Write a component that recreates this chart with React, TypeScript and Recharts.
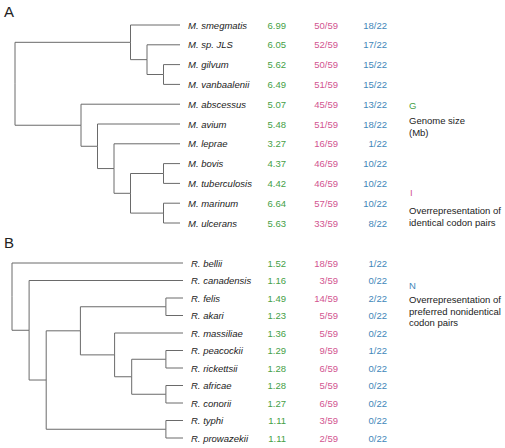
import React from 'react';
import { ComposedChart, Line, Scatter, XAxis, YAxis } from 'recharts';

// Mycobacterium panel
const speciesA = ['M. smegmatis', 'M. sp. JLS', 'M. gilvum', 'M. vanbaalenii', 'M. abscessus', 'M. avium', 'M. leprae', 'M. bovis', 'M. tuberculosis', 'M. marinum', 'M. ulcerans'];
const genomeA = [6.99, 6.05, 5.62, 6.49, 5.07, 5.48, 3.27, 4.37, 4.42, 6.64, 5.63];
const identicalA = [50, 52, 50, 51, 45, 51, 16, 46, 46, 57, 33];
const nonidenticalA = [18, 17, 15, 15, 13, 18, 1, 10, 10, 10, 8];

// Rickettsia panel
const speciesB = ['R. bellii', 'R. canadensis', 'R. felis', 'R. akari', 'R. massiliae', 'R. peacockii', 'R. rickettsii', 'R. africae', 'R. conorii', 'R. typhi', 'R. prowazekii'];
const genomeB = [1.52, 1.16, 1.49, 1.23, 1.36, 1.29, 1.28, 1.28, 1.27, 1.11, 1.11];
const identicalB = [18, 3, 14, 5, 5, 9, 6, 5, 6, 3, 2];
const nonidenticalB = [1, 0, 2, 0, 0, 1, 0, 0, 0, 0, 0];

const IDENT_TOTAL = 59;
const NONIDENT_TOTAL = 22;
const LEAF_DEPTH = 10;

// topology: leaves are row indices, d = node depth (cladogram units)
type TreeNode = number | { d: number; c: TreeNode[] };

const treeA: TreeNode = {
  d: 0,
  c: [
    { d: 7, c: [0, { d: 8, c: [1, { d: 9, c: [2, 3] }] }] },
    { d: 4, c: [4, { d: 5, c: [5, { d: 6, c: [6, { d: 7, c: [{ d: 9, c: [7, 8] }, { d: 9, c: [9, 10] }] }] }] }] },
  ],
};

const treeB: TreeNode = {
  d: 0,
  c: [
    0,
    {
      d: 1,
      c: [
        1,
        {
          d: 2,
          c: [
            { d: 4, c: [{ d: 9, c: [2, 3] }, { d: 6, c: [4, { d: 7, c: [{ d: 9, c: [5, 6] }, { d: 9, c: [7, 8] }] }] }] },
            { d: 9, c: [9, 10] },
          ],
        },
      ],
    },
  ],
};

const GREEN = '#45a046';
const PINK = '#d2548f';
const BLUE = '#3f87b9';
const BRANCH = '#6a6a6a';
const FONT = '"Liberation Sans", Arial, sans-serif';
const FS = 9.5;

type Pt = { x: number; y: number };

function layout(node: TreeNode, segs: Pt[][]): Pt {
  if (typeof node === 'number') return { x: LEAF_DEPTH, y: node };
  const kids = node.c.map((k) => layout(k, segs));
  const y = (kids[0].y + kids[kids.length - 1].y) / 2;
  kids.forEach((k) => {
    segs.push([
      { x: node.d, y },
      { x: node.d, y: k.y },
      { x: k.x, y: k.y },
    ]);
  });
  return { x: node.d, y };
}

function TreePanel({
  tree,
  species,
  genome,
  identical,
  nonidentical,
  height,
  margin,
}: {
  tree: TreeNode;
  species: string[];
  genome: number[];
  identical: number[];
  nonidentical: number[];
  height: number;
  margin: { top: number; right: number; bottom: number; left: number };
}) {
  const segs: Pt[][] = [];
  layout(tree, segs);
  const leaves = species.map((name, i) => ({
    x: LEAF_DEPTH,
    y: i,
    name,
    g: genome[i],
    id: identical[i],
    nid: nonidentical[i],
  }));

  const renderLeaf = (props: any) => {
    const { cx, cy, payload } = props;
    return (
      <g style={{ fontFamily: FONT, fontSize: FS }}>
        <text x={cx + 8} y={cy} dominantBaseline="central" fill="#222" fontStyle="italic">
          {payload.name}
        </text>
        <text x={286} y={cy} dominantBaseline="central" textAnchor="end" fill={GREEN}>
          {payload.g.toFixed(2)}
        </text>
        <text x={338} y={cy} dominantBaseline="central" textAnchor="end" fill={PINK}>
          {`${payload.id}/${IDENT_TOTAL}`}
        </text>
        <text x={387} y={cy} dominantBaseline="central" textAnchor="end" fill={BLUE}>
          {`${payload.nid}/${NONIDENT_TOTAL}`}
        </text>
      </g>
    );
  };

  return (
    <ComposedChart width={505} height={height} margin={margin}>
      <XAxis type="number" dataKey="x" domain={[0, LEAF_DEPTH]} hide />
      <YAxis type="number" dataKey="y" domain={[0, species.length - 1]} reversed hide />
      {segs.map((s, i) => (
        <Line
          key={`seg-${i}`}
          data={s}
          dataKey="y"
          type="linear"
          stroke={BRANCH}
          strokeWidth={1}
          dot={false}
          activeDot={false}
          isAnimationActive={false}
        />
      ))}
      <Scatter data={leaves} dataKey="y" shape={renderLeaf} isAnimationActive={false} />
    </ComposedChart>
  );
}

const legendText: React.CSSProperties = {
  position: 'absolute',
  fontFamily: FONT,
  fontSize: FS,
  lineHeight: '11.5px',
  color: '#222',
  whiteSpace: 'nowrap',
};

export default function App() {
  return (
    <div style={{ position: 'relative', width: 505, height: 448, background: '#fff', overflow: 'hidden' }}>
      <style>{'body{margin:0}'}</style>
      <div style={{ position: 'absolute', top: 0, left: 0 }}>
        <TreePanel
          tree={treeA}
          species={speciesA}
          genome={genomeA}
          identical={identicalA}
          nonidentical={nonidenticalA}
          height={240}
          margin={{ top: 25, right: 325, bottom: 17, left: 15 }}
        />
      </div>
      <div style={{ position: 'absolute', top: 240, left: 0 }}>
        <TreePanel
          tree={treeB}
          species={speciesB}
          genome={genomeB}
          identical={identicalB}
          nonidentical={nonidenticalB}
          height={208}
          margin={{ top: 23, right: 322, bottom: 10, left: 12 }}
        />
      </div>

      <div style={{ ...legendText, fontSize: 15, left: 4, top: 3, lineHeight: '17px' }}>A</div>
      <div style={{ ...legendText, fontSize: 15, left: 4, top: 234, lineHeight: '17px' }}>B</div>

      <div style={{ ...legendText, left: 409, top: 100, color: GREEN }}>G</div>
      <div style={{ ...legendText, left: 409, top: 115 }}>
        Genome size
        <br />
        (Mb)
      </div>

      <div style={{ ...legendText, left: 410, top: 187, color: PINK }}>I</div>
      <div style={{ ...legendText, left: 409, top: 205 }}>
        Overrepresentation of
        <br />
        identical codon pairs
      </div>

      <div style={{ ...legendText, left: 409, top: 280, color: BLUE }}>N</div>
      <div style={{ ...legendText, left: 409, top: 294 }}>
        Overrepresentation of
        <br />
        preferred nonidentical
        <br />
        codon pairs
      </div>
    </div>
  );
}
